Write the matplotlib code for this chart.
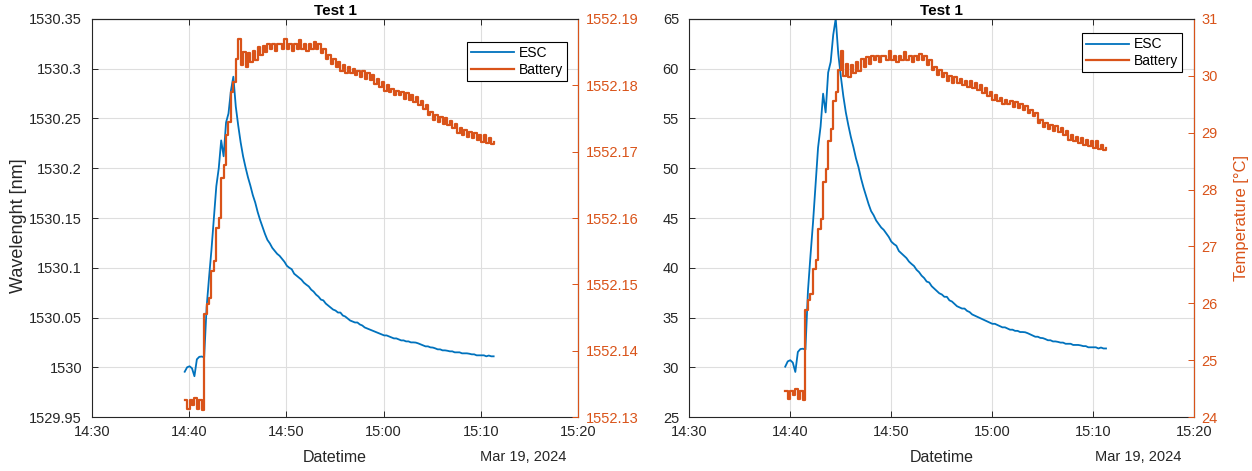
import matplotlib
matplotlib.use("Agg")
import matplotlib.pyplot as plt
import matplotlib.dates as mdates
from matplotlib.ticker import FixedLocator, FuncFormatter
import pandas as pd

plt.rcParams['font.family'] = ['Liberation Sans', 'DejaVu Sans']

# ---------------- data ----------------
title_text = "Test 1"
series_names = ["ESC", "Battery"]
start_time = "2024-03-19 14:39:33"
sample_period = "15s"

esc_nm = [
    1529.9955, 1530.0000, 1530.0010, 1529.9990, 1529.9910, 1530.0080, 1530.0105, 1530.0108, 1530.0100, 1530.0600,
    1530.0900, 1530.1180, 1530.1500, 1530.1820, 1530.2000, 1530.2280, 1530.2120, 1530.2460, 1530.2550, 1530.2780,
    1530.2920, 1530.2620, 1530.2430, 1530.2260, 1530.2120, 1530.2010, 1530.1910, 1530.1825, 1530.1730, 1530.1655,
    1530.1560, 1530.1480, 1530.1410, 1530.1340, 1530.1280, 1530.1245, 1530.1200, 1530.1170, 1530.1140, 1530.1120,
    1530.1090, 1530.1060, 1530.1020, 1530.1000, 1530.0985, 1530.0940, 1530.0920, 1530.0900, 1530.0880, 1530.0850,
    1530.0830, 1530.0812, 1530.0780, 1530.0760, 1530.0730, 1530.0710, 1530.0680, 1530.0672, 1530.0640, 1530.0620,
    1530.0600, 1530.0580, 1530.0570, 1530.0550, 1530.0550, 1530.0520, 1530.0510, 1530.0490, 1530.0470, 1530.0460,
    1530.0450, 1530.0450, 1530.0430, 1530.0420, 1530.0400, 1530.0390, 1530.0380, 1530.0370, 1530.0360, 1530.0350,
    1530.0340, 1530.0330, 1530.0320, 1530.0320, 1530.0310, 1530.0300, 1530.0290, 1530.0290, 1530.0280, 1530.0270,
    1530.0270, 1530.0260, 1530.0260, 1530.0250, 1530.0250, 1530.0248, 1530.0240, 1530.0230, 1530.0220, 1530.0210,
    1530.0210, 1530.0200, 1530.0198, 1530.0190, 1530.0180, 1530.0180, 1530.0170, 1530.0170, 1530.0166, 1530.0160,
    1530.0160, 1530.0150, 1530.0150, 1530.0150, 1530.0140, 1530.0140, 1530.0140, 1530.0136, 1530.0130, 1530.0130,
    1530.0120, 1530.0120, 1530.0120, 1530.0120, 1530.0110, 1530.0118, 1530.0110, 1530.0110,
]

battery_nm = [
    1552.1325, 1552.1312, 1552.1325, 1552.1318, 1552.1328, 1552.1312, 1552.1325, 1552.1310, 1552.1455, 1552.1470,
    1552.1480, 1552.1520, 1552.1535, 1552.1585, 1552.1600, 1552.1660, 1552.1680, 1552.1725, 1552.1745, 1552.1790,
    1552.1805, 1552.1840, 1552.1870, 1552.1830, 1552.1850, 1552.1828, 1552.1848, 1552.1835, 1552.1852, 1552.1838,
    1552.1858, 1552.1845, 1552.1860, 1552.1850, 1552.1862, 1552.1855, 1552.1862, 1552.1852, 1552.1862, 1552.1862,
    1552.1855, 1552.1870, 1552.1855, 1552.1862, 1552.1852, 1552.1862, 1552.1855, 1552.1868, 1552.1855, 1552.1862,
    1552.1852, 1552.1862, 1552.1855, 1552.1865, 1552.1855, 1552.1862, 1552.1848, 1552.1855, 1552.1840, 1552.1845,
    1552.1832, 1552.1840, 1552.1828, 1552.1835, 1552.1822, 1552.1830, 1552.1818, 1552.1828, 1552.1818, 1552.1825,
    1552.1815, 1552.1822, 1552.1812, 1552.1822, 1552.1810, 1552.1818, 1552.1808, 1552.1815, 1552.1802, 1552.1810,
    1552.1798, 1552.1805, 1552.1792, 1552.1800, 1552.1790, 1552.1795, 1552.1785, 1552.1792, 1552.1785, 1552.1790,
    1552.1780, 1552.1788, 1552.1778, 1552.1785, 1552.1775, 1552.1782, 1552.1770, 1552.1776, 1552.1765, 1552.1770,
    1552.1755, 1552.1760, 1552.1748, 1552.1755, 1552.1745, 1552.1752, 1552.1742, 1552.1750, 1552.1740, 1552.1746,
    1552.1735, 1552.1742, 1552.1728, 1552.1735, 1552.1725, 1552.1732, 1552.1722, 1552.1730, 1552.1720, 1552.1728,
    1552.1718, 1552.1725, 1552.1715, 1552.1725, 1552.1713, 1552.1720, 1552.1712, 1552.1715,
]

# FBG calibration (wavelength -> temperature), read by matching the two panels
ESC_NM_REF, ESC_T_REF, ESC_C_PER_NM = 1529.9955, 30.06, 118.0
BAT_NM_REF, BAT_T_REF, BAT_C_PER_NM = 1552.1322, 24.43, 109.6

x_ticks = ["2024-03-19 14:30", "2024-03-19 14:40", "2024-03-19 14:50",
           "2024-03-19 15:00", "2024-03-19 15:10", "2024-03-19 15:20"]
date_label = "Mar 19, 2024"

left1_ticks = [1529.95, 1530.0, 1530.05, 1530.1, 1530.15, 1530.2, 1530.25, 1530.3, 1530.35]
right1_ticks = [1552.13, 1552.14, 1552.15, 1552.16, 1552.17, 1552.18, 1552.19]
left2_ticks = [25, 30, 35, 40, 45, 50, 55, 60, 65]
right2_ticks = [24, 25, 26, 27, 28, 29, 30, 31]

# ---------------- derived ----------------
times = pd.date_range(start_time, periods=len(esc_nm), freq=sample_period)
esc_c = [ESC_T_REF + (v - ESC_NM_REF) * ESC_C_PER_NM for v in esc_nm]
bat_c = [BAT_T_REF + (v - BAT_NM_REF) * BAT_C_PER_NM for v in battery_nm]
xt = pd.to_datetime(x_ticks)

BLUE = (0.0, 0.447, 0.741)
ORANGE = (0.85, 0.325, 0.098)
DARK = (0.15, 0.15, 0.15)
GRID = "#dedede"
TICK_FS = 10.5


def fmt(v, _pos=None):
    return ("%.6f" % v).rstrip("0").rstrip(".")


fig = plt.figure(figsize=(12.52, 4.71), dpi=100)


def panel(rect, left_y, right_y, lticks, rticks, ylabel_left, ylabel_right, leg_anchor):
    axL = fig.add_axes(rect)
    axR = axL.twinx()
    l1, = axL.plot(times, left_y, color=BLUE, lw=1.3, label=series_names[0])
    l2, = axR.plot(times, right_y, color=ORANGE, lw=1.6, drawstyle="steps-post",
                   label=series_names[1])

    axL.set_xlim(xt[0], xt[-1])
    axL.xaxis.set_major_locator(FixedLocator(mdates.date2num(xt)))
    axL.xaxis.set_major_formatter(mdates.DateFormatter("%H:%M"))
    axL.set_ylim(lticks[0], lticks[-1])
    axL.yaxis.set_major_locator(FixedLocator(lticks))
    axL.yaxis.set_major_formatter(FuncFormatter(fmt))
    axR.set_ylim(rticks[0], rticks[-1])
    axR.yaxis.set_major_locator(FixedLocator(rticks))
    axR.yaxis.set_major_formatter(FuncFormatter(fmt))

    axL.grid(True, color=GRID, lw=0.8)
    axL.set_axisbelow(True)

    axL.tick_params(axis="x", direction="in", length=4, width=0.7, colors=DARK,
                    labelsize=TICK_FS, pad=6, top=True, labelcolor=DARK)
    axL.tick_params(axis="y", direction="in", length=4, width=0.7, colors=DARK,
                    labelsize=TICK_FS, pad=7)
    axR.tick_params(axis="y", direction="in", length=4, width=0.7, colors=ORANGE,
                    labelsize=TICK_FS, pad=5.5)
    for side in ("left", "top", "bottom"):
        axL.spines[side].set_color(DARK)
        axL.spines[side].set_linewidth(0.8)
    axR.spines["right"].set_color(ORANGE)
    axR.spines["right"].set_linewidth(0.8)
    axR.spines["top"].set_color(DARK)
    axR.spines["top"].set_linewidth(0.8)
    axR.spines["left"].set_visible(False)
    axR.spines["bottom"].set_visible(False)

    axL.set_title(title_text, fontsize=11, fontweight="bold", color="black", pad=3)
    axL.set_xlabel("Datetime", fontsize=11.5, color=DARK)
    axL.xaxis.set_label_coords(0.5, -0.083)
    axL.text(0.975, -0.083, date_label, transform=axL.transAxes, ha="right", va="top",
             fontsize=TICK_FS, color=DARK)
    if ylabel_left:
        axL.set_ylabel(ylabel_left[0], fontsize=ylabel_left[1], color=DARK)
        axL.yaxis.set_label_coords(ylabel_left[2], 0.48)
    if ylabel_right:
        axR.set_ylabel(ylabel_right[0], fontsize=ylabel_right[1], color=ORANGE)
        axR.yaxis.set_label_coords(ylabel_right[2], 0.5)

    leg = axR.legend([l1, l2], series_names, loc="upper right", bbox_to_anchor=leg_anchor,
                     borderaxespad=0, fontsize=10, frameon=True, fancybox=False,
                     framealpha=1, edgecolor="black", handlelength=3.1,
                     handletextpad=0.35, labelspacing=0.2, borderpad=0.3)
    leg.get_frame().set_linewidth(0.8)
    return axL, axR


panel([0.0733, 0.1146, 0.3886, 0.8451], esc_nm, battery_nm, left1_ticks, right1_ticks,
      ("Wavelenght [nm]", 13, -0.134), None, (0.977, 0.943))
panel([0.5501, 0.1146, 0.4035, 0.8451], esc_c, bat_c, left2_ticks, right2_ticks,
      None, ("Temperature [°C]", 12, 1.079), (0.977, 0.964))

fig.savefig("out.png", dpi=100)
